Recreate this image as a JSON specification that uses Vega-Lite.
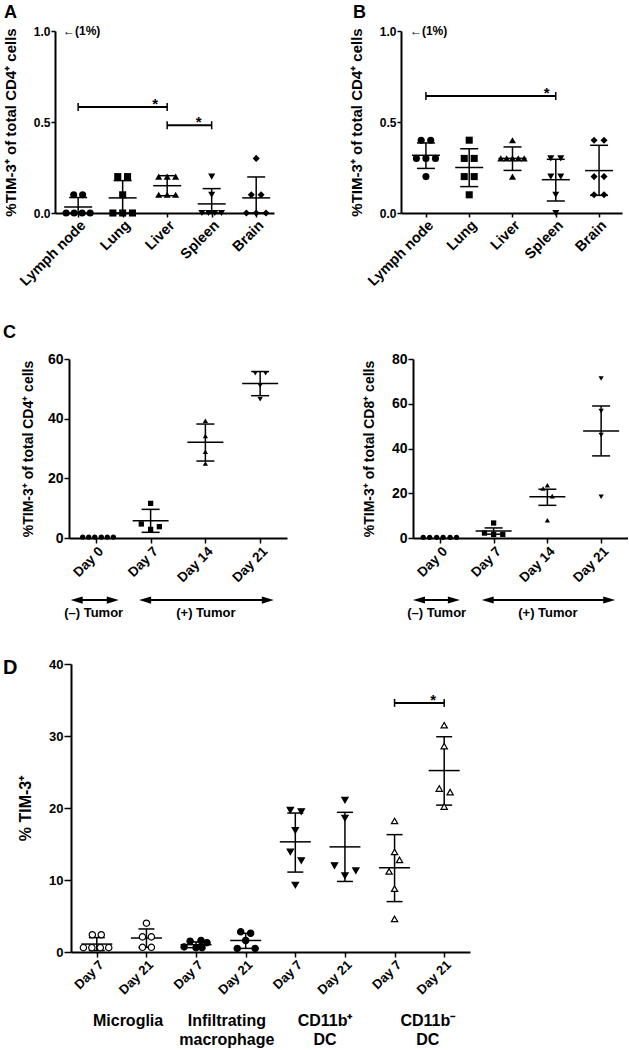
{
 "$schema": "https://vega.github.io/schema/vega-lite/v6.json",
 "padding": {"left": 2, "top": 4, "right": 0, "bottom": 0},
 "background": "white",
 "config": {
   "view": {"stroke": null},
   "font": "Liberation Sans",
   "axis": {"domainColor": "black", "domainWidth": 2, "tickColor": "black", "tickWidth": 1.5, "labelColor": "black", "labelFontWeight": "bold", "titleFontWeight": "bold", "titleColor": "black", "grid": false, "labelPadding": 1, "labelFlush": false, "labelOverlap": false, "labelFont": "Liberation Sans", "titleFont": "Liberation Sans"},
   "title": {"font": "Liberation Sans", "fontWeight": "bold", "color": "black", "anchor": "start", "frame": "group"},
   "text": {"font": "Liberation Sans", "fontWeight": "bold", "color": "black"}
 },
 "datasets": {
   "A_pts": [
     {"x": -0.1, "v": 0.1, "c": "Lymph node"}, {"x": 0.1, "v": 0.1, "c": "Lymph node"}, {"x": -0.27, "v": 0, "c": "Lymph node"}, {"x": -0.09, "v": 0, "c": "Lymph node"}, {"x": 0.09, "v": 0, "c": "Lymph node"}, {"x": 0.27, "v": 0, "c": "Lymph node"},
     {"x": 0.89, "v": 0.2, "c": "Lung"}, {"x": 1.11, "v": 0.2, "c": "Lung"}, {"x": 1, "v": 0.1, "c": "Lung"}, {"x": 0.78, "v": 0, "c": "Lung"}, {"x": 1, "v": 0, "c": "Lung"}, {"x": 1.22, "v": 0, "c": "Lung"},
     {"x": 1.81, "v": 0.2, "c": "Liver"}, {"x": 2, "v": 0.2, "c": "Liver"}, {"x": 2.19, "v": 0.2, "c": "Liver"}, {"x": 1.81, "v": 0.1, "c": "Liver"}, {"x": 2, "v": 0.1, "c": "Liver"}, {"x": 2.19, "v": 0.1, "c": "Liver"},
     {"x": 3, "v": 0.2, "c": "Spleen"}, {"x": 3, "v": 0.1, "c": "Spleen"}, {"x": 2.78, "v": 0, "c": "Spleen"}, {"x": 2.93, "v": 0, "c": "Spleen"}, {"x": 3.07, "v": 0, "c": "Spleen"}, {"x": 3.22, "v": 0, "c": "Spleen"},
     {"x": 4, "v": 0.3, "c": "Brain"}, {"x": 3.89, "v": 0.1, "c": "Brain"}, {"x": 4.11, "v": 0.1, "c": "Brain"}, {"x": 3.78, "v": 0, "c": "Brain"}, {"x": 4, "v": 0, "c": "Brain"}, {"x": 4.22, "v": 0, "c": "Brain"}
   ],
   "A_sum": [
     {"g": 0, "mean": 0.033, "lo": 0, "hi": 0.085},
     {"g": 1, "mean": 0.083, "lo": 0, "hi": 0.178},
     {"g": 2, "mean": 0.15, "lo": 0.095, "hi": 0.205},
     {"g": 3, "mean": 0.05, "lo": 0, "hi": 0.134},
     {"g": 4, "mean": 0.083, "lo": 0, "hi": 0.198}
   ],
   "A_br": [{"x1": 0, "x2": 2, "y": 0.582}, {"x1": 2, "x2": 3, "y": 0.482}],
   "A_star": [{"x": 1.73, "y": 0.582}, {"x": 2.71, "y": 0.482}],
   "A_note": [{"x": -0.34, "y": 1, "t": "←(1%)"}],
   "B_pts": [
     {"x": -0.11, "v": 0.4, "c": "Lymph node"}, {"x": 0.11, "v": 0.4, "c": "Lymph node"}, {"x": -0.22, "v": 0.3, "c": "Lymph node"}, {"x": 0, "v": 0.3, "c": "Lymph node"}, {"x": 0.22, "v": 0.3, "c": "Lymph node"}, {"x": 0, "v": 0.2, "c": "Lymph node"},
     {"x": 1, "v": 0.4, "c": "Lung"}, {"x": 0.885, "v": 0.3, "c": "Lung"}, {"x": 1.115, "v": 0.3, "c": "Lung"}, {"x": 0.885, "v": 0.2, "c": "Lung"}, {"x": 1.115, "v": 0.2, "c": "Lung"}, {"x": 1, "v": 0.1, "c": "Lung"},
     {"x": 2, "v": 0.4, "c": "Liver"}, {"x": 1.73, "v": 0.3, "c": "Liver"}, {"x": 1.865, "v": 0.3, "c": "Liver"}, {"x": 2, "v": 0.3, "c": "Liver"}, {"x": 2.135, "v": 0.3, "c": "Liver"}, {"x": 2.27, "v": 0.3, "c": "Liver"}, {"x": 2, "v": 0.2, "c": "Liver"},
     {"x": 2.885, "v": 0.3, "c": "Spleen"}, {"x": 3.115, "v": 0.3, "c": "Spleen"}, {"x": 2.885, "v": 0.2, "c": "Spleen"}, {"x": 3.115, "v": 0.2, "c": "Spleen"}, {"x": 3, "v": 0.1, "c": "Spleen"}, {"x": 3, "v": 0, "c": "Spleen"},
     {"x": 3.885, "v": 0.4, "c": "Brain"}, {"x": 4.115, "v": 0.4, "c": "Brain"}, {"x": 3.885, "v": 0.2, "c": "Brain"}, {"x": 4.115, "v": 0.2, "c": "Brain"}, {"x": 3.885, "v": 0.1, "c": "Brain"}, {"x": 4.115, "v": 0.1, "c": "Brain"}
   ],
   "B_sum": [
     {"g": 0, "mean": 0.317, "lo": 0.245, "hi": 0.385},
     {"g": 1, "mean": 0.25, "lo": 0.145, "hi": 0.353},
     {"g": 2, "mean": 0.3, "lo": 0.234, "hi": 0.363},
     {"g": 3, "mean": 0.183, "lo": 0.066, "hi": 0.295},
     {"g": 4, "mean": 0.233, "lo": 0.097, "hi": 0.372}
   ],
   "B_br": [{"x1": 0, "x2": 3, "y": 0.643}],
   "B_star": [{"x": 2.79, "y": 0.643}],
   "B_note": [{"x": -0.37, "y": 1, "t": "←(1%)"}],
   "C1_pts": [
     {"x": -0.24, "v": 0.3, "day": "Day 0"}, {"x": -0.13, "v": 0.3, "day": "Day 0"}, {"x": -0.02, "v": 0.3, "day": "Day 0"}, {"x": 0.1, "v": 0.3, "day": "Day 0"}, {"x": 0.21, "v": 0.3, "day": "Day 0"}, {"x": 0.32, "v": 0.3, "day": "Day 0"},
     {"x": 1, "v": 11.6, "day": "Day 7"}, {"x": 0.83, "v": 4.7, "day": "Day 7"}, {"x": 1, "v": 2.9, "day": "Day 7"}, {"x": 1.16, "v": 3.8, "day": "Day 7"},
     {"x": 2, "v": 39.3, "day": "Day 14"}, {"x": 2, "v": 34.2, "day": "Day 14"}, {"x": 2, "v": 28.9, "day": "Day 14"}, {"x": 2, "v": 25.0, "day": "Day 14"},
     {"x": 2.91, "v": 55.2, "day": "Day 21"}, {"x": 3.1, "v": 55.2, "day": "Day 21"}, {"x": 3, "v": 51.1, "day": "Day 21"}, {"x": 3, "v": 46.5, "day": "Day 21"}
   ],
   "C1_sum": [
     {"g": 1, "mean": 5.8, "lo": 1.9, "hi": 9.6},
     {"g": 2, "mean": 32.1, "lo": 25.8, "hi": 38.2},
     {"g": 3, "mean": 51.8, "lo": 47.7, "hi": 55.8}
   ],
   "C1_arr": [{"x1": -0.35, "x2": 0.31, "y": -20.8}, {"x1": 0.9, "x2": 3.14, "y": -20.8}],
   "C1_lab": [{"x": -0.04, "y": -25.1, "t": "(–) Tumor"}, {"x": 2.01, "y": -25.1, "t": "(+) Tumor"}],
   "C2_pts": [
     {"x": -0.31, "v": 0.3, "day": "Day 0"}, {"x": -0.19, "v": 0.3, "day": "Day 0"}, {"x": -0.06, "v": 0.3, "day": "Day 0"}, {"x": 0.06, "v": 0.3, "day": "Day 0"}, {"x": 0.19, "v": 0.3, "day": "Day 0"}, {"x": 0.31, "v": 0.3, "day": "Day 0"},
     {"x": 1, "v": 6.7, "day": "Day 7"}, {"x": 0.83, "v": 2.2, "day": "Day 7"}, {"x": 1, "v": 1.6, "day": "Day 7"}, {"x": 1.17, "v": 1.6, "day": "Day 7"},
     {"x": 2, "v": 23.6, "day": "Day 14"}, {"x": 1.92, "v": 22.1, "day": "Day 14"}, {"x": 2.09, "v": 18.7, "day": "Day 14"}, {"x": 2, "v": 7.9, "day": "Day 14"},
     {"x": 3, "v": 71.3, "day": "Day 21"}, {"x": 3, "v": 56.7, "day": "Day 21"}, {"x": 3, "v": 46.0, "day": "Day 21"}, {"x": 3, "v": 18.4, "day": "Day 21"}
   ],
   "C2_sum": [
     {"g": 1, "mean": 3.1, "lo": 1.7, "hi": 4.5},
     {"g": 2, "mean": 18.4, "lo": 14.6, "hi": 21.8},
     {"g": 3, "mean": 47.8, "lo": 36.7, "hi": 59.0}
   ],
   "C2_arr": [{"x1": -0.39, "x2": 0.26, "y": -27.7}, {"x1": 0.89, "x2": 3.15, "y": -27.7}],
   "C2_lab": [{"x": -0.06, "y": -33.5, "t": "(–) Tumor"}, {"x": 2.01, "y": -33.5, "t": "(+) Tumor"}],
   "D_pts": [
     {"x": -0.09, "v": 2.4, "cell": "Microglia"}, {"x": 0.09, "v": 2.4, "cell": "Microglia"}, {"x": -0.27, "v": 0.6, "cell": "Microglia"}, {"x": -0.1, "v": 0.6, "cell": "Microglia"}, {"x": 0.07, "v": 0.6, "cell": "Microglia"}, {"x": 0.24, "v": 0.6, "cell": "Microglia"},
     {"x": 1, "v": 4.0, "cell": "Microglia"}, {"x": 0.92, "v": 2.1, "cell": "Microglia"}, {"x": 1.1, "v": 2.1, "cell": "Microglia"}, {"x": 0.92, "v": 0.65, "cell": "Microglia"}, {"x": 1.1, "v": 0.65, "cell": "Microglia"},
     {"x": 1.76, "v": 0.7, "cell": "Infiltrating macrophage"}, {"x": 1.88, "v": 1.5, "cell": "Infiltrating macrophage"}, {"x": 2, "v": 0.6, "cell": "Infiltrating macrophage"}, {"x": 2.1, "v": 1.6, "cell": "Infiltrating macrophage"}, {"x": 2.22, "v": 1.3, "cell": "Infiltrating macrophage"}, {"x": 2.12, "v": 0.6, "cell": "Infiltrating macrophage"},
     {"x": 2.9, "v": 2.8, "cell": "Infiltrating macrophage"}, {"x": 3.1, "v": 2.6, "cell": "Infiltrating macrophage"}, {"x": 2.83, "v": 0.5, "cell": "Infiltrating macrophage"}, {"x": 3.19, "v": 0.5, "cell": "Infiltrating macrophage"}, {"x": 3, "v": 1.6, "cell": "Infiltrating macrophage"},
     {"x": 3.9, "v": 19.7, "cell": "CD11b+ DC"}, {"x": 4.12, "v": 19.5, "cell": "CD11b+ DC"}, {"x": 4, "v": 16.9, "cell": "CD11b+ DC"}, {"x": 3.9, "v": 13.9, "cell": "CD11b+ DC"}, {"x": 4.12, "v": 12.7, "cell": "CD11b+ DC"}, {"x": 4, "v": 9.3, "cell": "CD11b+ DC"},
     {"x": 5, "v": 21.1, "cell": "CD11b+ DC"}, {"x": 5, "v": 18.6, "cell": "CD11b+ DC"}, {"x": 4.79, "v": 12.0, "cell": "CD11b+ DC"}, {"x": 5.22, "v": 11.3, "cell": "CD11b+ DC"}, {"x": 5, "v": 10.6, "cell": "CD11b+ DC"},
     {"x": 6, "v": 18.2, "cell": "CD11b- DC"}, {"x": 6, "v": 13.9, "cell": "CD11b- DC"}, {"x": 6.1, "v": 12.8, "cell": "CD11b- DC"}, {"x": 5.89, "v": 11.2, "cell": "CD11b- DC"}, {"x": 6, "v": 8.8, "cell": "CD11b- DC"}, {"x": 6, "v": 4.6, "cell": "CD11b- DC"},
     {"x": 7, "v": 31.5, "cell": "CD11b- DC"}, {"x": 7, "v": 28.6, "cell": "CD11b- DC"}, {"x": 6.9, "v": 22.7, "cell": "CD11b- DC"}, {"x": 7.12, "v": 22.2, "cell": "CD11b- DC"}, {"x": 7, "v": 20.2, "cell": "CD11b- DC"}
   ],
   "D_sum": [
     {"g": 0, "mean": 1.1, "lo": 0.2, "hi": 2.0},
     {"g": 1, "mean": 1.94, "lo": 0.65, "hi": 3.2},
     {"g": 2, "mean": 1.02, "lo": 0.6, "hi": 1.4},
     {"g": 3, "mean": 1.6, "lo": 0.5, "hi": 2.6},
     {"g": 4, "mean": 15.3, "lo": 11.1, "hi": 19.3},
     {"g": 5, "mean": 14.6, "lo": 9.8, "hi": 19.4},
     {"g": 6, "mean": 11.7, "lo": 7.0, "hi": 16.3},
     {"g": 7, "mean": 25.2, "lo": 20.4, "hi": 29.9}
   ],
   "D_br": [{"x1": 6, "x2": 7, "y": 34.6}],
   "D_star": [{"x": 6.78, "y": 34.6}],
   "D_grp": [
     {"x": 0.63, "t": "Microglia"},
     {"x": 2.62, "t": "Infiltrating\nmacrophage"},
     {"x": 4.6, "t": "CD11b⁺\nDC"},
     {"x": 6.67, "t": "CD11b⁻\nDC"}
   ]
 },
 "resolve": {"scale": {"shape": "independent", "fill": "independent"}},
 "align": "none",
 "spacing": 38,
 "vconcat": [
  {
   "spacing": 35,
   "align": "none",
   "resolve": {"scale": {"shape": "independent", "fill": "independent"}},
   "vconcat": [
    {
     "spacing": 0,
     "align": "none",
     "resolve": {"scale": {"shape": "independent", "fill": "independent"}},
     "hconcat": [
      {"width": 1, "height": 1, "data": {"values": []}, "mark": {"type": "point", "opacity": 0}, "encoding": {}},
      {
       "hconcat": [
        {
         "width": 219, "height": 182,
         "title": {"text": "A", "fontSize": 18, "offset": 3, "dx": -51},
         "layer": [
          {"data": {"name": "A_sum"}, "mark": {"type": "rule", "color": "black", "strokeWidth": 1.5},
           "encoding": {
             "x": {"field": "g", "type": "quantitative", "scale": {"domain": [-0.52, 4.4], "nice": false, "zero": false},
                   "axis": {"title": null, "values": [0, 1, 2, 3, 4], "labelExpr": "['Lymph node','Lung','Liver','Spleen','Brain'][datum.value]", "labelAngle": -45, "labelAlign": "right", "labelBaseline": "top", "labelFontSize": 14.5, "tickSize": 4}},
             "y": {"field": "lo", "type": "quantitative", "scale": {"domain": [0, 1], "nice": false, "zero": false},
                   "axis": {"title": "%TIM-3⁺ of total CD4⁺ cells", "values": [0, 0.5, 1], "format": ".1f", "labelFontSize": 12, "titleFontSize": 15, "titlePadding": 15, "tickSize": 4}},
             "y2": {"field": "hi"}
           }},
          {"data": {"name": "A_sum"}, "mark": {"type": "tick", "orient": "horizontal", "size": 28, "thickness": 1.5, "color": "black", "opacity": 1},
           "encoding": {"x": {"field": "g", "type": "quantitative", "scale": {"domain": [-0.52, 4.4], "nice": false, "zero": false}}, "y": {"field": "mean", "type": "quantitative", "scale": {"domain": [0, 1], "nice": false, "zero": false}}}},
          {"data": {"name": "A_sum"}, "mark": {"type": "tick", "orient": "horizontal", "size": 18, "thickness": 1.5, "color": "black", "opacity": 1},
           "encoding": {"x": {"field": "g", "type": "quantitative", "scale": {"domain": [-0.52, 4.4], "nice": false, "zero": false}}, "y": {"field": "lo", "type": "quantitative", "scale": {"domain": [0, 1], "nice": false, "zero": false}}}},
          {"data": {"name": "A_sum"}, "mark": {"type": "tick", "orient": "horizontal", "size": 18, "thickness": 1.5, "color": "black", "opacity": 1},
           "encoding": {"x": {"field": "g", "type": "quantitative", "scale": {"domain": [-0.52, 4.4], "nice": false, "zero": false}}, "y": {"field": "hi", "type": "quantitative", "scale": {"domain": [0, 1], "nice": false, "zero": false}}}},
          {"data": {"name": "A_pts"}, "mark": {"type": "point", "filled": true, "color": "black", "size": 50, "opacity": 1},
           "encoding": {"x": {"field": "x", "type": "quantitative", "scale": {"domain": [-0.52, 4.4], "nice": false, "zero": false}}, "y": {"field": "v", "type": "quantitative", "scale": {"domain": [0, 1], "nice": false, "zero": false}},
             "shape": {"field": "c", "type": "nominal", "scale": {"domain": ["Lymph node", "Lung", "Liver", "Spleen", "Brain"], "range": ["circle", "square", "triangle-up", "triangle-down", "diamond"]}, "legend": null}}},
          {"data": {"name": "A_br"}, "mark": {"type": "rule", "color": "black", "strokeWidth": 2},
           "encoding": {"x": {"field": "x1", "type": "quantitative", "scale": {"domain": [-0.52, 4.4], "nice": false, "zero": false}}, "x2": {"field": "x2"}, "y": {"field": "y", "type": "quantitative", "scale": {"domain": [0, 1], "nice": false, "zero": false}}}},
          {"data": {"name": "A_br"}, "mark": {"type": "tick", "orient": "vertical", "size": 8, "thickness": 1.5, "color": "black", "opacity": 1},
           "encoding": {"x": {"field": "x1", "type": "quantitative", "scale": {"domain": [-0.52, 4.4], "nice": false, "zero": false}}, "y": {"field": "y", "type": "quantitative", "scale": {"domain": [0, 1], "nice": false, "zero": false}}}},
          {"data": {"name": "A_br"}, "mark": {"type": "tick", "orient": "vertical", "size": 8, "thickness": 1.5, "color": "black", "opacity": 1},
           "encoding": {"x": {"field": "x2", "type": "quantitative", "scale": {"domain": [-0.52, 4.4], "nice": false, "zero": false}}, "y": {"field": "y", "type": "quantitative", "scale": {"domain": [0, 1], "nice": false, "zero": false}}}},
          {"data": {"name": "A_star"}, "mark": {"type": "text", "text": "*", "fontSize": 15, "baseline": "alphabetic", "dy": 2},
           "encoding": {"x": {"field": "x", "type": "quantitative", "scale": {"domain": [-0.52, 4.4], "nice": false, "zero": false}}, "y": {"field": "y", "type": "quantitative", "scale": {"domain": [0, 1], "nice": false, "zero": false}}}},
          {"data": {"name": "A_note"}, "mark": {"type": "text", "fontSize": 12, "align": "left", "baseline": "middle"},
           "encoding": {"x": {"field": "x", "type": "quantitative", "scale": {"domain": [-0.52, 4.4], "nice": false, "zero": false}}, "y": {"field": "y", "type": "quantitative", "scale": {"domain": [0, 1], "nice": false, "zero": false}}, "text": {"field": "t"}}}
         ]
        },
        {
         "width": 221, "height": 182,
         "title": {"text": "B", "fontSize": 18, "offset": 3, "dx": -48},
         "layer": [
          {"data": {"name": "B_sum"}, "mark": {"type": "rule", "color": "black", "strokeWidth": 1.5},
           "encoding": {
             "x": {"field": "g", "type": "quantitative", "scale": {"domain": [-0.576, 4.53], "nice": false, "zero": false},
                   "axis": {"title": null, "values": [0, 1, 2, 3, 4], "labelExpr": "['Lymph node','Lung','Liver','Spleen','Brain'][datum.value]", "labelAngle": -45, "labelAlign": "right", "labelBaseline": "top", "labelFontSize": 14.5, "tickSize": 4}},
             "y": {"field": "lo", "type": "quantitative", "scale": {"domain": [0, 1], "nice": false, "zero": false},
                   "axis": {"title": "%TIM-3⁺ of total CD4⁺ cells", "values": [0, 0.5, 1], "format": ".1f", "labelFontSize": 12, "titleFontSize": 15, "titlePadding": 15, "tickSize": 4}},
             "y2": {"field": "hi"}
           }},
          {"data": {"name": "B_sum"}, "mark": {"type": "tick", "orient": "horizontal", "size": 28, "thickness": 1.5, "color": "black", "opacity": 1},
           "encoding": {"x": {"field": "g", "type": "quantitative", "scale": {"domain": [-0.576, 4.53], "nice": false, "zero": false}}, "y": {"field": "mean", "type": "quantitative", "scale": {"domain": [0, 1], "nice": false, "zero": false}}}},
          {"data": {"name": "B_sum"}, "mark": {"type": "tick", "orient": "horizontal", "size": 18, "thickness": 1.5, "color": "black", "opacity": 1},
           "encoding": {"x": {"field": "g", "type": "quantitative", "scale": {"domain": [-0.576, 4.53], "nice": false, "zero": false}}, "y": {"field": "lo", "type": "quantitative", "scale": {"domain": [0, 1], "nice": false, "zero": false}}}},
          {"data": {"name": "B_sum"}, "mark": {"type": "tick", "orient": "horizontal", "size": 18, "thickness": 1.5, "color": "black", "opacity": 1},
           "encoding": {"x": {"field": "g", "type": "quantitative", "scale": {"domain": [-0.576, 4.53], "nice": false, "zero": false}}, "y": {"field": "hi", "type": "quantitative", "scale": {"domain": [0, 1], "nice": false, "zero": false}}}},
          {"data": {"name": "B_pts"}, "mark": {"type": "point", "filled": true, "color": "black", "size": 50, "opacity": 1},
           "encoding": {"x": {"field": "x", "type": "quantitative", "scale": {"domain": [-0.576, 4.53], "nice": false, "zero": false}}, "y": {"field": "v", "type": "quantitative", "scale": {"domain": [0, 1], "nice": false, "zero": false}},
             "shape": {"field": "c", "type": "nominal", "scale": {"domain": ["Lymph node", "Lung", "Liver", "Spleen", "Brain"], "range": ["circle", "square", "triangle-up", "triangle-down", "diamond"]}, "legend": null}}},
          {"data": {"name": "B_br"}, "mark": {"type": "rule", "color": "black", "strokeWidth": 2},
           "encoding": {"x": {"field": "x1", "type": "quantitative", "scale": {"domain": [-0.576, 4.53], "nice": false, "zero": false}}, "x2": {"field": "x2"}, "y": {"field": "y", "type": "quantitative", "scale": {"domain": [0, 1], "nice": false, "zero": false}}}},
          {"data": {"name": "B_br"}, "mark": {"type": "tick", "orient": "vertical", "size": 8, "thickness": 1.5, "color": "black", "opacity": 1},
           "encoding": {"x": {"field": "x1", "type": "quantitative", "scale": {"domain": [-0.576, 4.53], "nice": false, "zero": false}}, "y": {"field": "y", "type": "quantitative", "scale": {"domain": [0, 1], "nice": false, "zero": false}}}},
          {"data": {"name": "B_br"}, "mark": {"type": "tick", "orient": "vertical", "size": 8, "thickness": 1.5, "color": "black", "opacity": 1},
           "encoding": {"x": {"field": "x2", "type": "quantitative", "scale": {"domain": [-0.576, 4.53], "nice": false, "zero": false}}, "y": {"field": "y", "type": "quantitative", "scale": {"domain": [0, 1], "nice": false, "zero": false}}}},
          {"data": {"name": "B_star"}, "mark": {"type": "text", "text": "*", "fontSize": 15, "baseline": "alphabetic", "dy": 2},
           "encoding": {"x": {"field": "x", "type": "quantitative", "scale": {"domain": [-0.576, 4.53], "nice": false, "zero": false}}, "y": {"field": "y", "type": "quantitative", "scale": {"domain": [0, 1], "nice": false, "zero": false}}}},
          {"data": {"name": "B_note"}, "mark": {"type": "text", "fontSize": 12, "align": "left", "baseline": "middle"},
           "encoding": {"x": {"field": "x", "type": "quantitative", "scale": {"domain": [-0.576, 4.53], "nice": false, "zero": false}}, "y": {"field": "y", "type": "quantitative", "scale": {"domain": [0, 1], "nice": false, "zero": false}}, "text": {"field": "t"}}}
         ]
        }
       ],
       "spacing": 75,
       "align": "none",
       "resolve": {"scale": {"shape": "independent", "fill": "independent"}}
      }
     ]
    },
    {
     "spacing": 0,
     "align": "none",
     "resolve": {"scale": {"shape": "independent", "fill": "independent"}},
     "hconcat": [
      {"width": 1, "height": 1, "data": {"values": []}, "mark": {"type": "point", "opacity": 0}, "encoding": {}},
      {
       "hconcat": [
        {
         "width": 218, "height": 179,
         "title": {"text": "C", "fontSize": 18, "offset": 10, "dx": -66},
         "layer": [
          {"data": {"name": "C1_sum"}, "mark": {"type": "rule", "color": "black", "strokeWidth": 1.5},
           "encoding": {
             "x": {"field": "g", "type": "quantitative", "scale": {"domain": [-0.49, 3.49], "nice": false, "zero": false},
                   "axis": {"title": null, "values": [0, 1, 2, 3], "labelExpr": "['Day 0','Day 7','Day 14','Day 21'][datum.value]", "labelAngle": -45, "labelAlign": "right", "labelBaseline": "top", "labelFontSize": 13.5, "tickSize": 5}},
             "y": {"field": "lo", "type": "quantitative", "scale": {"domain": [0, 60], "nice": false, "zero": false},
                   "axis": {"title": "%TIM-3⁺ of total CD4⁺ cells", "values": [0, 20, 40, 60], "labelFontSize": 14, "titleFontSize": 14, "titlePadding": 12, "tickSize": 5}},
             "y2": {"field": "hi"}
           }},
          {"data": {"name": "C1_sum"}, "mark": {"type": "tick", "orient": "horizontal", "size": 36, "thickness": 1.5, "color": "black", "opacity": 1},
           "encoding": {"x": {"field": "g", "type": "quantitative", "scale": {"domain": [-0.49, 3.49], "nice": false, "zero": false}}, "y": {"field": "mean", "type": "quantitative", "scale": {"domain": [0, 60], "nice": false, "zero": false}}}},
          {"data": {"name": "C1_sum"}, "mark": {"type": "tick", "orient": "horizontal", "size": 18, "thickness": 1.5, "color": "black", "opacity": 1},
           "encoding": {"x": {"field": "g", "type": "quantitative", "scale": {"domain": [-0.49, 3.49], "nice": false, "zero": false}}, "y": {"field": "lo", "type": "quantitative", "scale": {"domain": [0, 60], "nice": false, "zero": false}}}},
          {"data": {"name": "C1_sum"}, "mark": {"type": "tick", "orient": "horizontal", "size": 18, "thickness": 1.5, "color": "black", "opacity": 1},
           "encoding": {"x": {"field": "g", "type": "quantitative", "scale": {"domain": [-0.49, 3.49], "nice": false, "zero": false}}, "y": {"field": "hi", "type": "quantitative", "scale": {"domain": [0, 60], "nice": false, "zero": false}}}},
          {"data": {"name": "C1_pts"}, "mark": {"type": "point", "filled": true, "color": "black", "size": 28, "opacity": 1},
           "encoding": {"x": {"field": "x", "type": "quantitative", "scale": {"domain": [-0.49, 3.49], "nice": false, "zero": false}}, "y": {"field": "v", "type": "quantitative", "scale": {"domain": [0, 60], "nice": false, "zero": false}},
             "shape": {"field": "day", "type": "nominal", "scale": {"domain": ["Day 0", "Day 7", "Day 14", "Day 21"], "range": ["circle", "square", "triangle-up", "triangle-down"]}, "legend": null}}},
          {"data": {"name": "C1_arr"}, "mark": {"type": "rule", "color": "black", "strokeWidth": 2},
           "encoding": {"x": {"field": "x1", "type": "quantitative", "scale": {"domain": [-0.49, 3.49], "nice": false, "zero": false}}, "x2": {"field": "x2"}, "y": {"field": "y", "type": "quantitative", "scale": {"domain": [0, 60], "nice": false, "zero": false}}}},
          {"data": {"name": "C1_arr"}, "mark": {"type": "point", "filled": true, "color": "black", "size": 144, "opacity": 1, "shape": "M-1,0L1,-0.6L1,0.6Z"},
           "encoding": {"x": {"field": "x1", "type": "quantitative", "scale": {"domain": [-0.49, 3.49], "nice": false, "zero": false}}, "y": {"field": "y", "type": "quantitative", "scale": {"domain": [0, 60], "nice": false, "zero": false}}}},
          {"data": {"name": "C1_arr"}, "mark": {"type": "point", "filled": true, "color": "black", "size": 144, "opacity": 1, "shape": "M1,0L-1,-0.6L-1,0.6Z"},
           "encoding": {"x": {"field": "x2", "type": "quantitative", "scale": {"domain": [-0.49, 3.49], "nice": false, "zero": false}}, "y": {"field": "y", "type": "quantitative", "scale": {"domain": [0, 60], "nice": false, "zero": false}}}},
          {"data": {"name": "C1_lab"}, "mark": {"type": "text", "fontSize": 13, "align": "center", "baseline": "middle"},
           "encoding": {"x": {"field": "x", "type": "quantitative", "scale": {"domain": [-0.49, 3.49], "nice": false, "zero": false}}, "y": {"field": "y", "type": "quantitative", "scale": {"domain": [0, 60], "nice": false, "zero": false}}, "text": {"field": "t"}}}
         ]
        },
        {
         "width": 215, "height": 179,
         "layer": [
          {"data": {"name": "C2_sum"}, "mark": {"type": "rule", "color": "black", "strokeWidth": 1.5},
           "encoding": {
             "x": {"field": "g", "type": "quantitative", "scale": {"domain": [-0.5, 3.5], "nice": false, "zero": false},
                   "axis": {"title": null, "values": [0, 1, 2, 3], "labelExpr": "['Day 0','Day 7','Day 14','Day 21'][datum.value]", "labelAngle": -45, "labelAlign": "right", "labelBaseline": "top", "labelFontSize": 13.5, "tickSize": 5}},
             "y": {"field": "lo", "type": "quantitative", "scale": {"domain": [0, 80], "nice": false, "zero": false},
                   "axis": {"title": "%TIM-3⁺ of total CD8⁺ cells", "values": [0, 20, 40, 60, 80], "labelFontSize": 14, "titleFontSize": 14, "titlePadding": 15, "tickSize": 5}},
             "y2": {"field": "hi"}
           }},
          {"data": {"name": "C2_sum"}, "mark": {"type": "tick", "orient": "horizontal", "size": 36, "thickness": 1.5, "color": "black", "opacity": 1},
           "encoding": {"x": {"field": "g", "type": "quantitative", "scale": {"domain": [-0.5, 3.5], "nice": false, "zero": false}}, "y": {"field": "mean", "type": "quantitative", "scale": {"domain": [0, 80], "nice": false, "zero": false}}}},
          {"data": {"name": "C2_sum"}, "mark": {"type": "tick", "orient": "horizontal", "size": 18, "thickness": 1.5, "color": "black", "opacity": 1},
           "encoding": {"x": {"field": "g", "type": "quantitative", "scale": {"domain": [-0.5, 3.5], "nice": false, "zero": false}}, "y": {"field": "lo", "type": "quantitative", "scale": {"domain": [0, 80], "nice": false, "zero": false}}}},
          {"data": {"name": "C2_sum"}, "mark": {"type": "tick", "orient": "horizontal", "size": 18, "thickness": 1.5, "color": "black", "opacity": 1},
           "encoding": {"x": {"field": "g", "type": "quantitative", "scale": {"domain": [-0.5, 3.5], "nice": false, "zero": false}}, "y": {"field": "hi", "type": "quantitative", "scale": {"domain": [0, 80], "nice": false, "zero": false}}}},
          {"data": {"name": "C2_pts"}, "mark": {"type": "point", "filled": true, "color": "black", "size": 28, "opacity": 1},
           "encoding": {"x": {"field": "x", "type": "quantitative", "scale": {"domain": [-0.5, 3.5], "nice": false, "zero": false}}, "y": {"field": "v", "type": "quantitative", "scale": {"domain": [0, 80], "nice": false, "zero": false}},
             "shape": {"field": "day", "type": "nominal", "scale": {"domain": ["Day 0", "Day 7", "Day 14", "Day 21"], "range": ["circle", "square", "triangle-up", "triangle-down"]}, "legend": null}}},
          {"data": {"name": "C2_arr"}, "mark": {"type": "rule", "color": "black", "strokeWidth": 2},
           "encoding": {"x": {"field": "x1", "type": "quantitative", "scale": {"domain": [-0.5, 3.5], "nice": false, "zero": false}}, "x2": {"field": "x2"}, "y": {"field": "y", "type": "quantitative", "scale": {"domain": [0, 80], "nice": false, "zero": false}}}},
          {"data": {"name": "C2_arr"}, "mark": {"type": "point", "filled": true, "color": "black", "size": 144, "opacity": 1, "shape": "M-1,0L1,-0.6L1,0.6Z"},
           "encoding": {"x": {"field": "x1", "type": "quantitative", "scale": {"domain": [-0.5, 3.5], "nice": false, "zero": false}}, "y": {"field": "y", "type": "quantitative", "scale": {"domain": [0, 80], "nice": false, "zero": false}}}},
          {"data": {"name": "C2_arr"}, "mark": {"type": "point", "filled": true, "color": "black", "size": 144, "opacity": 1, "shape": "M1,0L-1,-0.6L-1,0.6Z"},
           "encoding": {"x": {"field": "x2", "type": "quantitative", "scale": {"domain": [-0.5, 3.5], "nice": false, "zero": false}}, "y": {"field": "y", "type": "quantitative", "scale": {"domain": [0, 80], "nice": false, "zero": false}}}},
          {"data": {"name": "C2_lab"}, "mark": {"type": "text", "fontSize": 13, "align": "center", "baseline": "middle"},
           "encoding": {"x": {"field": "x", "type": "quantitative", "scale": {"domain": [-0.5, 3.5], "nice": false, "zero": false}}, "y": {"field": "y", "type": "quantitative", "scale": {"domain": [0, 80], "nice": false, "zero": false}}, "text": {"field": "t"}}}
         ]
        }
       ],
       "spacing": 75,
       "align": "none",
       "resolve": {"scale": {"shape": "independent", "fill": "independent"}}
      }
     ]
    }
   ]
  },
  {
   "spacing": 0,
   "align": "none",
   "resolve": {"scale": {"shape": "independent", "fill": "independent"}},
   "hconcat": [
    {"width": 1, "height": 1, "data": {"values": []}, "mark": {"type": "point", "opacity": 0}, "encoding": {}},
    {
     "width": 399, "height": 288,
     "title": {"text": "D", "fontSize": 20, "offset": -20, "dx": -68},
     "layer": [
      {"data": {"name": "D_sum"}, "mark": {"type": "rule", "color": "black", "strokeWidth": 1.5},
       "encoding": {
         "x": {"field": "g", "type": "quantitative", "scale": {"domain": [-0.52, 7.52], "nice": false, "zero": false},
               "axis": {"title": null, "values": [0, 1, 2, 3, 4, 5, 6, 7], "labelExpr": "datum.value % 2 == 0 ? 'Day 7' : 'Day 21'", "labelAngle": -45, "labelAlign": "right", "labelBaseline": "top", "labelFontSize": 13, "tickSize": 5}},
         "y": {"field": "lo", "type": "quantitative", "scale": {"domain": [0, 40], "nice": false, "zero": false},
               "axis": {"title": "% TIM-3⁺", "values": [0, 10, 20, 30, 40], "labelFontSize": 13, "titleFontSize": 16, "titlePadding": 15, "tickSize": 7}},
         "y2": {"field": "hi"}
       }},
      {"data": {"name": "D_sum"}, "mark": {"type": "tick", "orient": "horizontal", "size": 31, "thickness": 1.5, "color": "black", "opacity": 1},
       "encoding": {"x": {"field": "g", "type": "quantitative", "scale": {"domain": [-0.52, 7.52], "nice": false, "zero": false}}, "y": {"field": "mean", "type": "quantitative", "scale": {"domain": [0, 40], "nice": false, "zero": false}}}},
      {"data": {"name": "D_sum"}, "mark": {"type": "tick", "orient": "horizontal", "size": 16, "thickness": 1.5, "color": "black", "opacity": 1},
       "encoding": {"x": {"field": "g", "type": "quantitative", "scale": {"domain": [-0.52, 7.52], "nice": false, "zero": false}}, "y": {"field": "lo", "type": "quantitative", "scale": {"domain": [0, 40], "nice": false, "zero": false}}}},
      {"data": {"name": "D_sum"}, "mark": {"type": "tick", "orient": "horizontal", "size": 16, "thickness": 1.5, "color": "black", "opacity": 1},
       "encoding": {"x": {"field": "g", "type": "quantitative", "scale": {"domain": [-0.52, 7.52], "nice": false, "zero": false}}, "y": {"field": "hi", "type": "quantitative", "scale": {"domain": [0, 40], "nice": false, "zero": false}}}},
      {"data": {"name": "D_pts"}, "mark": {"type": "point", "filled": true, "stroke": "black", "strokeWidth": 1.2, "size": 40, "opacity": 1},
       "encoding": {"x": {"field": "x", "type": "quantitative", "scale": {"domain": [-0.52, 7.52], "nice": false, "zero": false}}, "y": {"field": "v", "type": "quantitative", "scale": {"domain": [0, 40], "nice": false, "zero": false}},
         "shape": {"field": "cell", "type": "nominal", "scale": {"domain": ["Microglia", "Infiltrating macrophage", "CD11b+ DC", "CD11b- DC"], "range": ["circle", "circle", "triangle-down", "triangle-up"]}, "legend": null},
         "fill": {"field": "cell", "type": "nominal", "scale": {"domain": ["Microglia", "Infiltrating macrophage", "CD11b+ DC", "CD11b- DC"], "range": ["white", "black", "black", "white"]}, "legend": null}}},
      {"data": {"name": "D_br"}, "mark": {"type": "rule", "color": "black", "strokeWidth": 2},
       "encoding": {"x": {"field": "x1", "type": "quantitative", "scale": {"domain": [-0.52, 7.52], "nice": false, "zero": false}}, "x2": {"field": "x2"}, "y": {"field": "y", "type": "quantitative", "scale": {"domain": [0, 40], "nice": false, "zero": false}}}},
      {"data": {"name": "D_br"}, "mark": {"type": "tick", "orient": "vertical", "size": 8, "thickness": 1.5, "color": "black", "opacity": 1},
       "encoding": {"x": {"field": "x1", "type": "quantitative", "scale": {"domain": [-0.52, 7.52], "nice": false, "zero": false}}, "y": {"field": "y", "type": "quantitative", "scale": {"domain": [0, 40], "nice": false, "zero": false}}}},
      {"data": {"name": "D_br"}, "mark": {"type": "tick", "orient": "vertical", "size": 8, "thickness": 1.5, "color": "black", "opacity": 1},
       "encoding": {"x": {"field": "x2", "type": "quantitative", "scale": {"domain": [-0.52, 7.52], "nice": false, "zero": false}}, "y": {"field": "y", "type": "quantitative", "scale": {"domain": [0, 40], "nice": false, "zero": false}}}},
      {"data": {"name": "D_star"}, "mark": {"type": "text", "text": "*", "fontSize": 15, "baseline": "alphabetic", "dy": 2},
       "encoding": {"x": {"field": "x", "type": "quantitative", "scale": {"domain": [-0.52, 7.52], "nice": false, "zero": false}}, "y": {"field": "y", "type": "quantitative", "scale": {"domain": [0, 40], "nice": false, "zero": false}}}},
      {"data": {"name": "D_grp"}, "mark": {"type": "text", "fontSize": 16, "align": "center", "baseline": "top", "lineBreak": "\n", "lineHeight": 19},
       "encoding": {"x": {"field": "x", "type": "quantitative", "scale": {"domain": [-0.52, 7.52], "nice": false, "zero": false}}, "y": {"datum": -8.5, "type": "quantitative", "scale": {"domain": [0, 40], "nice": false, "zero": false}}, "text": {"field": "t"}}}
     ]
    }
   ]
  }
 ]
}
